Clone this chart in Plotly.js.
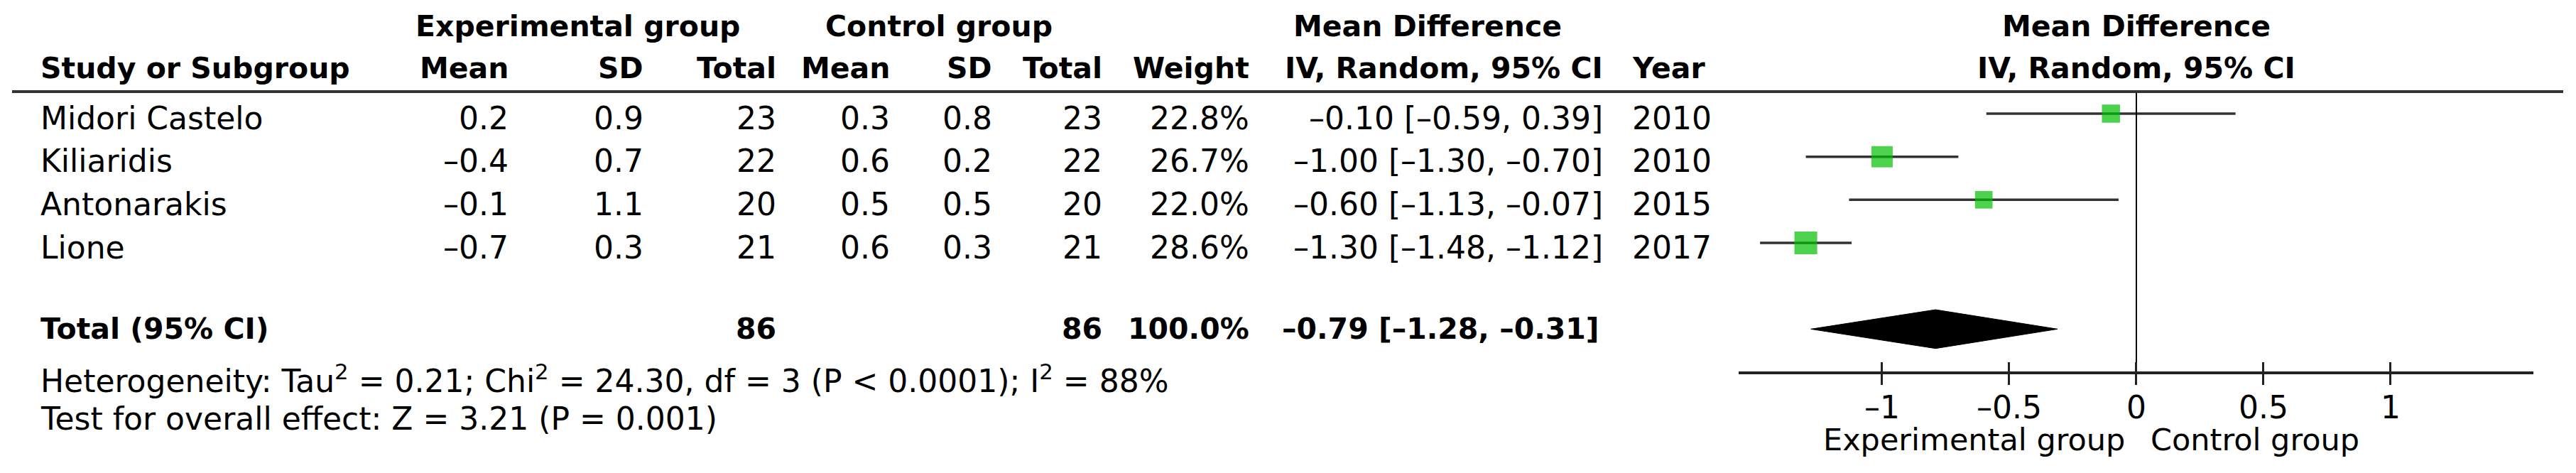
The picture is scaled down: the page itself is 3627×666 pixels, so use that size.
<!DOCTYPE html>
<html><head><meta charset="utf-8">
<script src="https://cdn.plot.ly/plotly-3.0.1.min.js"></script>
<style>html,body{margin:0;padding:0;background:#fff;} #chart{width:3627px;height:666px;}</style>
</head><body><div id="chart"></div>
<script>
// ---------------- data ----------------
const studies    = ['Midori Castelo', 'Kiliaridis', 'Antonarakis', 'Lione'];
const expMean    = [0.2, -0.4, -0.1, -0.7];
const expSD      = [0.9, 0.7, 1.1, 0.3];
const expTotal   = [23, 22, 20, 21];
const ctrlMean   = [0.3, 0.6, 0.5, 0.6];
const ctrlSD     = [0.8, 0.2, 0.5, 0.3];
const ctrlTotal  = [23, 22, 20, 21];
const weights    = [22.8, 26.7, 22.0, 28.6];
const meanDiff   = [-0.10, -1.00, -0.60, -1.30];
const ciLower    = [-0.59, -1.30, -1.13, -1.48];
const ciUpper    = [0.39, -0.70, -0.07, -1.12];
const years      = [2010, 2010, 2015, 2017];
const totalExp = 86, totalCtrl = 86, totalWeight = 100.0;
const pooledMD = -0.79, pooledLower = -1.28, pooledUpper = -0.31;
const nullValue = 0;
const totalLabel = 'Total (95% CI)';
const heterogeneityText = 'Heterogeneity: Tau<sup>2</sup> = 0.21; Chi<sup>2</sup> = 24.30, df = 3 (P &lt; 0.0001); I<sup>2</sup> = 88%';
const overallEffectText = 'Test for overall effect: Z = 3.21 (P = 0.001)';
const groupHeaders  = ['Experimental group', 'Control group', 'Mean Difference', 'Mean Difference'];
const columnHeaders = ['Study or Subgroup', 'Mean', 'SD', 'Total', 'Mean', 'SD', 'Total', 'Weight', 'IV, Random, 95% CI', 'Year', 'IV, Random, 95% CI'];
const tickVals = [-1, -0.5, 0, 0.5, 1];
const tickText = ['\u20131', '\u20130.5', '0', '0.5', '1'];
const favoursLeft = 'Experimental group', favoursRight = 'Control group';

// ---------------- layout helpers ----------------
const W = 3627, H = 666;
const FONT = 'DejaVu Sans';
const REG = 44, BOLD = 41, FAV = 43;
const px = x => x / W;
const fmt = (v, d) => v.toFixed(d).replace('-', '\u2013');
const rowIdx = studies.map((_, i) => i + 1);
const totalRow = studies.length + 2;

// column positions (pixels)
const colStudy = 57, colExpMean = 716, colExpSD = 906, colExpN = 1093,
      colCtrlMean = 1253, colCtrlSD = 1397, colCtrlN = 1552, colWeight = 1759,
      colCI = 2257, colYear = 2298;

// vertical positions (row units)
const yGroupHdr = -1.03, yColHdr = -0.055, rowTextOff = 0.1,
      yHet = 7.156, yTest = 8.08, yFavours = 8.57, yHeaderLine = 0.49, yAxisLine = 7.02;

const annotations = [];
function ann(text, x, y, xanchor, opts = {}) {
  annotations.push(Object.assign({
    text: text, x: x, y: y, xref: 'paper', yref: 'y', xanchor: xanchor, yanchor: 'middle',
    showarrow: false, borderpad: 0, borderwidth: 0,
    font: {family: FONT, size: opts.size || (opts.bold ? BOLD : REG), color: '#000'}
  }, opts.extra || {}));
}
const B = t => '<b>' + t + '</b>';

// group headers
ann(B(groupHeaders[0]), px(585), yGroupHdr, 'left', {bold: true});
ann(B(groupHeaders[1]), px(1162), yGroupHdr, 'left', {bold: true});
ann(B(groupHeaders[2]), px(2010), yGroupHdr, 'center', {bold: true});
ann(B(groupHeaders[3]), nullValue, yGroupHdr, 'center', {bold: true, extra: {xref: 'x'}});
// column headers
ann(B(columnHeaders[0]), px(colStudy), yColHdr, 'left', {bold: true});
ann(B(columnHeaders[1]), px(colExpMean), yColHdr, 'right', {bold: true});
ann(B(columnHeaders[2]), px(colExpSD), yColHdr, 'right', {bold: true});
ann(B(columnHeaders[3]), px(colExpN), yColHdr, 'right', {bold: true});
ann(B(columnHeaders[4]), px(colCtrlMean), yColHdr, 'right', {bold: true});
ann(B(columnHeaders[5]), px(colCtrlSD), yColHdr, 'right', {bold: true});
ann(B(columnHeaders[6]), px(colCtrlN), yColHdr, 'right', {bold: true});
ann(B(columnHeaders[7]), px(colWeight), yColHdr, 'right', {bold: true});
ann(B(columnHeaders[8]), px(colCI), yColHdr, 'right', {bold: true});
ann(B(columnHeaders[9]), px(colYear), yColHdr, 'left', {bold: true});
ann(B(columnHeaders[10]), nullValue, yColHdr, 'center', {bold: true, extra: {xref: 'x'}});

// study rows
studies.forEach((s, i) => {
  const y = rowIdx[i] + rowTextOff;
  ann(s, px(colStudy), y, 'left');
  ann(fmt(expMean[i], 1), px(colExpMean), y, 'right');
  ann(fmt(expSD[i], 1), px(colExpSD), y, 'right');
  ann(String(expTotal[i]), px(colExpN), y, 'right');
  ann(fmt(ctrlMean[i], 1), px(colCtrlMean), y, 'right');
  ann(fmt(ctrlSD[i], 1), px(colCtrlSD), y, 'right');
  ann(String(ctrlTotal[i]), px(colCtrlN), y, 'right');
  ann(fmt(weights[i], 1) + '%', px(colWeight), y, 'right');
  ann(fmt(meanDiff[i], 2) + ' [' + fmt(ciLower[i], 2) + ', ' + fmt(ciUpper[i], 2) + ']', px(colCI), y, 'right');
  ann(String(years[i]), px(colYear), y, 'left');
});
// total row
ann(B(totalLabel), px(colStudy), totalRow, 'left', {bold: true});
ann(B(String(totalExp)), px(colExpN), totalRow, 'right', {bold: true});
ann(B(String(totalCtrl)), px(colCtrlN), totalRow, 'right', {bold: true});
ann(B(fmt(totalWeight, 1) + '%'), px(colWeight), totalRow, 'right', {bold: true});
ann(B(fmt(pooledMD, 2) + ' [' + fmt(pooledLower, 2) + ', ' + fmt(pooledUpper, 2) + ']'), px(colCI - 5), totalRow, 'right', {bold: true});
// footnotes
ann(heterogeneityText, px(colStudy), yHet, 'left');
ann(overallEffectText, px(colStudy), yTest, 'left');
// favours labels
ann(favoursLeft, nullValue - 0.045, yFavours, 'right', {size: FAV, extra: {xref: 'x'}});
ann(favoursRight, nullValue + 0.056, yFavours, 'left', {size: FAV, extra: {xref: 'x'}});

// ---------------- traces ----------------
const halfH = 0.45;
const traces = [
  { // null line
    type: 'scatter', mode: 'lines', xaxis: 'x2', yaxis: 'y',
    x: [nullValue, nullValue], y: [yHeaderLine, yAxisLine],
    line: {color: '#000', width: 2}, hoverinfo: 'skip'
  },
  { // studies
    type: 'scatter', mode: 'markers',
    x: meanDiff, y: rowIdx,
    marker: {symbol: 'square', color: '#00bf00', size: weights.map(w => w * 1.12), line: {width: 0}},
    error_x: {
      type: 'data', symmetric: false,
      array: ciUpper.map((u, i) => u - meanDiff[i]),
      arrayminus: ciLower.map((l, i) => meanDiff[i] - l),
      width: 0, thickness: 3.5, color: '#333'
    },
    hoverinfo: 'skip'
  },
  { // pooled diamond
    type: 'scatter', mode: 'lines', fill: 'toself',
    x: [pooledLower, pooledMD, pooledUpper, pooledMD, pooledLower],
    y: [totalRow, totalRow - halfH, totalRow, totalRow + halfH, totalRow],
    line: {color: '#000', width: 1}, fillcolor: '#000', hoverinfo: 'skip'
  }
];

const xDomain = [px(2448), px(3567)];
const xRange = [-1.5642, 1.5615];
const axisPos = 1 - 525 / H;
const layout = {
  width: W, height: H,
  margin: {l: 0, r: 0, t: 0, b: 0, pad: 0},
  paper_bgcolor: '#fff', plot_bgcolor: 'rgba(0,0,0,0)',
  showlegend: false,
  xaxis: {
    domain: xDomain, range: xRange, anchor: 'free', position: axisPos,
    showline: true, linewidth: 4, linecolor: '#222',
    ticks: 'outside', ticklen: 15, tickwidth: 3, tickcolor: '#222',
    ticklabelstandoff: -6,
    tickmode: 'array', tickvals: tickVals, ticktext: tickText,
    tickfont: {family: FONT, size: REG, color: '#000'},
    showgrid: false, zeroline: false, fixedrange: true
  },
  xaxis2: {
    domain: xDomain, range: xRange, anchor: 'free', position: axisPos, overlaying: 'x',
    showline: false, ticks: 'inside', ticklen: 15, tickwidth: 3, tickcolor: '#222',
    tickmode: 'array', tickvals: tickVals, showticklabels: false,
    showgrid: false, zeroline: false, fixedrange: true
  },
  yaxis: {
    domain: [0, 1], range: [9.34, -1.637], visible: false, fixedrange: true
  },
  shapes: [{
    type: 'line', xref: 'paper', yref: 'y', x0: px(17), x1: px(3609), y0: yHeaderLine, y1: yHeaderLine,
    line: {color: '#333', width: 4}
  }],
  annotations: annotations
};

Plotly.newPlot('chart', traces, layout, {staticPlot: true, displayModeBar: false});
</script>
</body></html>
